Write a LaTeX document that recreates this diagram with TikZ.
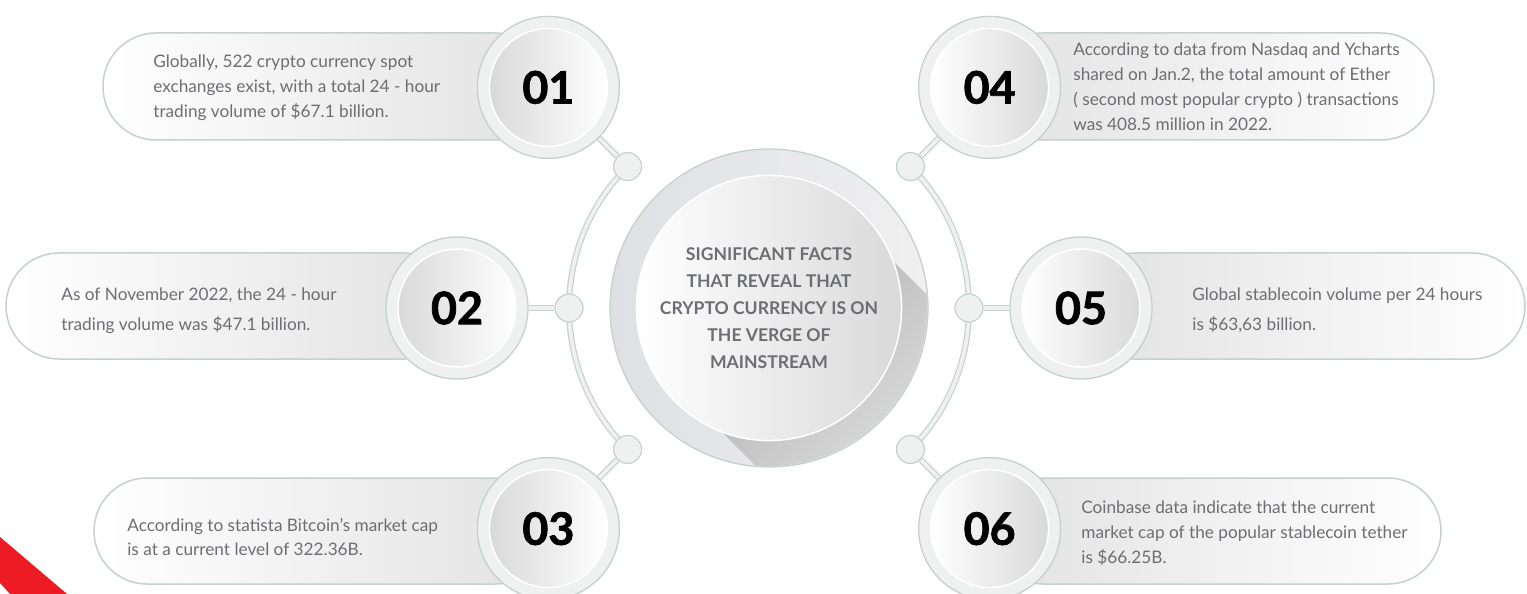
\documentclass[tikz,border=0pt]{standalone}
\usepackage{fontspec}
\setmainfont{Lato}
\definecolor{edge}{HTML}{C5D1CC}
\definecolor{ringfill}{HTML}{EFF0F0}
\definecolor{bodygray}{HTML}{6D6E71}
\definecolor{pillgray}{HTML}{E2E2E2}
\definecolor{facegray}{HTML}{D9D9D9}
\definecolor{hubleft}{HTML}{DFE0E3}
\definecolor{hubright}{HTML}{F0F0F1}
\definecolor{shadowgray}{HTML}{ABABAB}
\definecolor{brandred}{HTML}{ED1C24}
\pgfdeclarelayer{bg}
\pgfsetlayers{bg,main}
\tikzset{
  band/.style={draw=edge, line width=0.024cm, double=ringfill, double distance=0.075cm},
  joint/.style={circle, draw=edge, fill=ringfill, line width=0.024cm, minimum size=0.56cm, inner sep=0},
  ring/.style={circle, draw=edge, fill=ringfill, line width=0.026cm, minimum size=2.84cm, inner sep=0},
  face/.style={circle, draw=white, line width=0.03cm, minimum size=2.36cm, inner sep=0, font=\fontsize{25.5pt}{25.5pt}\selectfont\bfseries\addfontfeatures{FakeBold=1.6}},
  pill/.style={draw=edge, line width=0.03cm, rounded corners=1.06cm},
  fact/.style={anchor=west, align=left, inner sep=0, text=bodygray, font=\fontsize{9.8pt}{14.2pt}\selectfont},
}
\begin{document}
\begin{tikzpicture}[x=0.02cm, y=0.02cm]
\useasboundingbox (0,0) rectangle (1527,-594);
\coordinate (C) at (769,-308);
\coordinate (Cs) at (939,-478);
% red corner
\fill[brandred] (0,-537) -- (67,-594) -- (10,-594) -- (0,-583) -- cycle;
% text pills
\draw[pill, left color=white, right color=pillgray] (103,-33) rectangle (548,-140);
\draw[pill, left color=white, right color=pillgray] (6,-253) rectangle (457,-359);
\draw[pill, left color=white, right color=pillgray] (94,-478) rectangle (548,-584);
\draw[pill, left color=pillgray, right color=white] (990,-33) rectangle (1434,-140);
\draw[pill, left color=pillgray, right color=white] (1081,-253) rectangle (1525,-359);
\draw[pill, left color=pillgray, right color=white] (990,-478) rectangle (1441,-584);
\node[fact] (t1) at (153,-88) {Globally, 522 crypto currency spot\\exchanges exist, with a total 24 - hour\\trading volume of \$67.1 billion.};
\node[fact, font=\fontsize{9.8pt}{17pt}\selectfont] (t2) at (61,-311) {As of November 2022, the 24 - hour\\trading volume was \$47.1 billion.};
\node[fact] (t3) at (127,-537) {According to statista Bitcoin’s market cap\\is at a current level of 322.36B.};
\node[fact] (t4) at (1073,-87) {According to data from Nasdaq and Ycharts\\shared on Jan.2, the total amount of Ether\\( second most popular crypto ) transactions\\was 408.5 million in 2022.};
\node[fact, font=\fontsize{9.8pt}{17pt}\selectfont] (t5) at (1192,-310) {Global stablecoin volume per 24 hours\\is \$63,63 billion.};
\node[fact] (t6) at (1081,-533) {Coinbase data indicate that the current\\market cap of the popular stablecoin tether\\is \$66.25B.};
% hub
\node[circle, draw=edge, line width=0.026cm, left color=hubleft, right color=hubright, minimum size=6.36cm] (hub) at (C) {};
\begin{scope}
\clip (C) circle[radius=158];
\shade[top color=shadowgray, bottom color=hubright, shading angle=45] ([shift={(45:121)}]C) -- ([shift={(45:121)}]Cs) -- ([shift={(-135:121)}]Cs) -- ([shift={(-135:121)}]C) -- cycle;
\end{scope}
\node[circle, draw=white, line width=0.03cm, left color=white, right color=facegray, minimum size=4.84cm, align=center, text=bodygray, font=\fontsize{10pt}{15.3pt}\selectfont\bfseries] (core) at (C) {SIGNIFICANT FACTS\\THAT REVEAL THAT\\CRYPTO CURRENCY IS ON\\THE VERGE OF\\MAINSTREAM};
% joints on the arcs
\node[joint] (j1) at ([shift={(135:200)}]C) {};
\node[joint] (j2) at ([shift={(180:200)}]C) {};
\node[joint] (j3) at ([shift={(225:200)}]C) {};
\node[joint] (j4) at ([shift={(45:200)}]C) {};
\node[joint] (j5) at ([shift={(0:200)}]C) {};
\node[joint] (j6) at ([shift={(-45:200)}]C) {};
% numbered rings
\node[ring] (r1) at ([shift={(135:312)}]C) {};
\node[ring] (r2) at ([shift={(180:312)}]C) {};
\node[ring] (r3) at ([shift={(225:312)}]C) {};
\node[ring] (r4) at ([shift={(45:312)}]C) {};
\node[ring] (r5) at ([shift={(0:312)}]C) {};
\node[ring] (r6) at ([shift={(-45:312)}]C) {};
\node[face, left color=facegray, right color=white] (n1) at (r1) {01};
\node[face, left color=facegray, right color=white] (n2) at (r2) {02};
\node[face, left color=facegray, right color=white] (n3) at (r3) {03};
\node[face, left color=white, right color=facegray] (n4) at (r4) {04};
\node[face, left color=white, right color=facegray] (n5) at (r5) {05};
\node[face, left color=white, right color=facegray] (n6) at (r6) {06};
% connectors
\begin{pgfonlayer}{bg}
\draw[band] (j1.center) arc[start angle=135, end angle=225, radius=200];
\draw[band] (j4.center) arc[start angle=45, end angle=-45, radius=200];
\draw[band] (r1) -- (j1);
\draw[band] (r2) -- (j2);
\draw[band] (r3) -- (j3);
\draw[band] (r4) -- (j4);
\draw[band] (r5) -- (j5);
\draw[band] (r6) -- (j6);
\end{pgfonlayer}
\end{tikzpicture}
\end{document}
